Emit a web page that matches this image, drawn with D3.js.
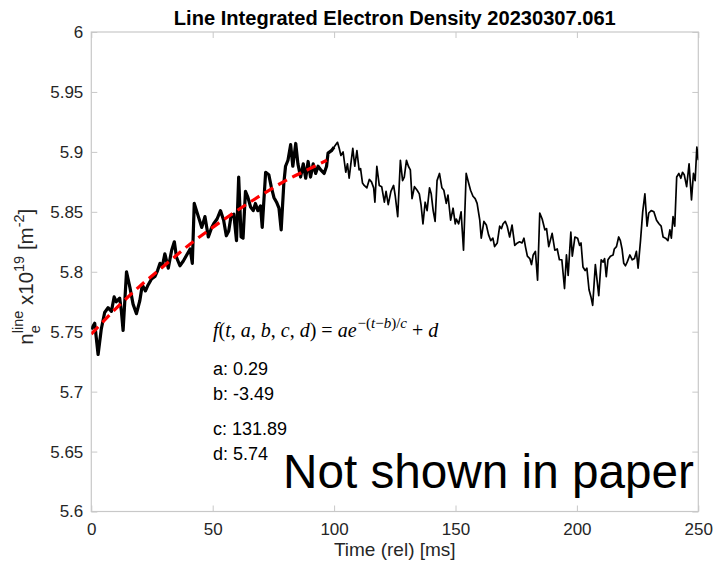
<!DOCTYPE html>
<html><head><meta charset="utf-8">
<script src="https://cdn.jsdelivr.net/npm/d3@7"></script>
<style>body{margin:0;background:#fff} svg{display:block}</style>
</head><body><svg id="c" width="715" height="564"></svg>
<script>
// ---- data ----
const timeMs = [0,1.4,2.8,4.1,5.5,6.9,8.3,9.4,10.3,11.7,12.4,13.1,14.5,15.9,17.2,18.6,20,21,22.3,23.4,24.8,26.2,27.3,28.3,29.2,30.3,31.7,33.1,34.2,35.1,36.5,37.9,39.3,40.7,41.6,42.4,44.1,45.5,46.8,48.2,49.6,
50.4,51.8,53.2,54.5,55.6,56.6,57.6,58.7,59.8,60.7,61.7,62.5,63.5,64.5,65.6,66.7,67.6,68.6,69.7,70.4,71.8,73.1,74.1,75.2,76.3,77.3,78.2,79.3,80,81,82.1,83,84.2,85.1,86.2,87.3,88.3,89.3,90.3,91.4,92.4,93.4,94.5,95.9,96.9,97.5,98.9,100,
101.4,102.1,102.8,103.7,104.8,105.5,106.2,106.9,107.7,108.5,109.4,110.3,110.9,111.7,112.4,113.5,114.5,115.4,116.3,116.8,117.6,118.6,119.6,120.7,121.4,122.3,123.4,124.5,125.2,126.2,127.3,128.2,128.9,129.8,130.6,131.4,132.1,133.1,134.2,135.1,135.8,136.6,137.5,138.3,139.3,140,140.8,141.6,142.4,143.4,144.4,145.2,146.2,146.9,148,149,149.9,
150.3,151.3,152.3,153.3,154.4,155.4,156.2,157.2,158.1,158.9,160,160.6,161.7,162.7,163.6,164.5,165.4,166.1,167.2,168.2,168.9,169.6,170.5,171.3,172.3,173.3,174.4,175.5,176.4,177.4,178.2,178.8,179.6,180.6,181.3,182,182.9,183.8,184.7,185.7,186.8,187.5,188.4,189.8,190.9,191.9,192.8,193.8,194.9,195.7,196.4,197.5,198.1,199.2,
200.3,201.1,201.7,202.5,203.4,204.1,205,205.8,206.5,207.6,208.3,209,210,210.8,211.4,212.1,212.8,213.8,214.9,215.4,216.3,217.2,217.9,218.6,219.3,220,220.7,221.8,222.8,223.7,224.5,225.2,226.2,227.1,228,228.9,229.6,230.6,231.7,232.8,233.8,234.7,235.5,236.5,237.5,238.3,238.9,239.6,240.3,241.1,242,242.8,243.5,244.2,245.2,246.2,247.2,248,248.7,249.4,250];
const densityE19 = [5.752,5.757,5.731,5.752,5.766,5.770,5.767,5.779,5.775,5.778,5.767,5.751,5.800,5.787,5.773,5.765,5.776,5.789,5.784,5.789,5.794,5.796,5.801,5.807,5.804,5.815,5.803,5.818,5.825,5.812,5.805,5.809,5.814,5.819,5.807,5.857,5.846,5.837,5.846,5.829,5.837,
5.840,5.844,5.851,5.843,5.830,5.834,5.847,5.848,5.826,5.879,5.829,5.828,5.867,5.862,5.854,5.851,5.857,5.851,5.855,5.837,5.883,5.881,5.871,5.862,5.858,5.853,5.835,5.874,5.888,5.893,5.906,5.888,5.907,5.890,5.879,5.890,5.878,5.892,5.879,5.890,5.882,5.888,5.885,5.882,5.888,5.899,5.901,5.904,
5.908,5.903,5.897,5.900,5.883,5.890,5.878,5.890,5.903,5.888,5.901,5.885,5.886,5.874,5.872,5.870,5.877,5.875,5.870,5.858,5.888,5.872,5.871,5.858,5.867,5.856,5.867,5.872,5.863,5.846,5.893,5.876,5.879,5.893,5.888,5.885,5.861,5.871,5.868,5.865,5.856,5.840,5.858,5.851,5.870,5.865,5.851,5.842,5.876,5.882,5.870,5.868,5.857,5.864,5.843,5.853,5.840,
5.844,5.840,5.850,5.818,5.882,5.874,5.868,5.863,5.861,5.857,5.843,5.828,5.842,5.839,5.831,5.826,5.828,5.821,5.824,5.838,5.836,5.840,5.842,5.838,5.829,5.839,5.822,5.824,5.825,5.824,5.828,5.821,5.813,5.811,5.806,5.814,5.817,5.793,5.849,5.844,5.835,5.836,5.821,5.832,5.818,5.819,5.810,5.810,5.786,5.814,5.797,5.833,5.813,5.829,
5.828,5.822,5.824,5.804,5.801,5.803,5.785,5.779,5.772,5.806,5.793,5.780,5.810,5.808,5.811,5.796,5.810,5.813,5.814,5.819,5.821,5.829,5.826,5.819,5.807,5.805,5.808,5.814,5.810,5.811,5.817,5.803,5.826,5.850,5.865,5.838,5.849,5.851,5.850,5.843,5.840,5.838,5.829,5.828,5.826,5.835,5.828,5.846,5.838,5.879,5.882,5.878,5.883,5.881,5.871,5.890,5.860,5.882,5.876,5.904,5.893];
const fitTime = [0,10,20,30,40,50,60,70,80,90,97];
const fitValue = [5.748,5.769,5.788,5.805,5.822,5.837,5.851,5.864,5.876,5.886,5.893];
const fitWindowEnd = 100;
const xTicks = [0,50,100,150,200,250];
const yTicks = [5.6,5.65,5.7,5.75,5.8,5.85,5.9,5.95,6];
const yTickLabels = ["5.6","5.65","5.7","5.75","5.8","5.85","5.9","5.95","6"];
const fitParamLabels = ["a: 0.29","b: -3.49","c: 131.89","d: 5.74"];
const titleText = "Line Integrated Electron Density 20230307.061";
const xLabelText = "Time (rel) [ms]";
const stampText = "Not shown in paper";

// ---- layout ----
const L = 91.3, R = 698.3, T = 32, B = 511.5;
const SANS = "'Liberation Sans', Arial, Helvetica, sans-serif";
const SERIF = "'Liberation Serif', 'Times New Roman', serif";
const AX = "#c8c8c8", TXT = "#262626";

const svg = d3.select("#c");
const x = d3.scaleLinear().domain([0,250]).range([L,R]);
const y = d3.scaleLinear().domain([5.6,6]).range([B,T]);

const pts = timeMs.map((t,i)=>({t, v:densityE19[i]}));
const fitPts = fitTime.map((t,i)=>({t, v:fitValue[i]}));

svg.append("defs").append("clipPath").attr("id","pc")
  .append("rect").attr("x",L).attr("y",T).attr("width",R-L).attr("height",B-T);

// axes
function styleAxis(g){
  g.select(".domain").remove();
  g.selectAll(".tick line").attr("stroke",AX).attr("stroke-width",1);
  g.selectAll(".tick text").attr("fill",TXT).attr("font-family",SANS).attr("font-size",17);
}
svg.append("g").attr("transform",`translate(0,${B})`)
  .call(d3.axisBottom(x).tickValues(xTicks).tickSize(-6).tickPadding(11.3).tickFormat(d3.format("d")))
  .call(styleAxis);
svg.append("g").attr("transform",`translate(${L},0)`)
  .call(d3.axisLeft(y).tickValues(yTicks).tickSize(-6).tickPadding(8).tickFormat((d,i)=>yTickLabels[i]))
  .call(styleAxis);
svg.append("g").attr("transform",`translate(0,${T})`)
  .call(d3.axisTop(x).tickValues(xTicks).tickSize(-6).tickFormat(()=>""))
  .call(styleAxis);
svg.append("g").attr("transform",`translate(${R},0)`)
  .call(d3.axisRight(y).tickValues(yTicks).tickSize(-6).tickFormat(()=>""))
  .call(styleAxis);
svg.append("rect").attr("x",L).attr("y",T).attr("width",R-L).attr("height",B-T)
  .attr("fill","none").attr("stroke",AX).attr("stroke-width",1.2);

// lines
const line = d3.line().x(d=>x(d.t)).y(d=>y(d.v));
const pg = svg.append("g").attr("clip-path","url(#pc)");
pg.append("path").datum(pts).attr("d",line).attr("fill","none")
  .attr("stroke","#000").attr("stroke-width",1.7).attr("stroke-linejoin","round");
pg.append("path").datum(pts.filter(d=>d.t<=fitWindowEnd)).attr("d",line).attr("fill","none")
  .attr("stroke","#000").attr("stroke-width",3.2).attr("stroke-linejoin","round");
pg.append("path").datum(fitPts).attr("d",d3.line().x(d=>x(d.t)).y(d=>y(d.v)).curve(d3.curveMonotoneX))
  .attr("fill","none").attr("stroke","#ff0000").attr("stroke-width",3.2).attr("stroke-dasharray","10,6");

// title
const title = svg.append("text").attr("x",(L+R)/2).attr("y",25).attr("text-anchor","middle")
  .attr("font-family",SANS).attr("font-weight","bold").attr("font-size",19).attr("fill","#000")
  .text(titleText);
{ const w = title.node().getComputedTextLength(); title.attr("font-size",19*442/w); }
// x label
svg.append("text").attr("x",(L+R)/2).attr("y",556).attr("text-anchor","middle")
  .attr("font-family",SANS).attr("font-size",19).attr("fill",TXT).text(xLabelText);

// y label
const yl = svg.append("text").attr("transform",`translate(33,${(T+B)/2+5}) rotate(-90)`)
  .attr("text-anchor","middle").attr("font-family",SANS).attr("font-size",20.5).attr("fill",TXT);
yl.append("tspan").text("n");
yl.append("tspan").attr("font-size",14.5).attr("dy",6.5).text("e");
yl.append("tspan").attr("font-size",14.5).attr("dx",-8).attr("dy",-16.5).text("line");
yl.append("tspan").attr("dy",10).text(" x10");
yl.append("tspan").attr("font-size",14.5).attr("dy",-9).text("19");
yl.append("tspan").attr("dy",9).text(" [m");
yl.append("tspan").attr("font-size",14.5).attr("dy",-9).text("-2");
yl.append("tspan").attr("dy",9).text("]");

// equation (LaTeX-like)
const eq = svg.append("text").attr("x",213).attr("y",337).attr("font-family",SERIF).attr("font-size",20).attr("fill","#000");
const parts = [["f",1],["(",0],["t",1],[", ",0],["a",1],[", ",0],["b",1],[", ",0],["c",1],[", ",0],["d",1],[") = ",0],["ae",1]];
parts.forEach(p=>eq.append("tspan").attr("font-style",p[1]?"italic":"normal").text(p[0]));
const sup = [["\u2212(",0],["t",1],["\u2212",0],["b",1],[")/",0],["c",1]];
sup.forEach((p,i)=>{const s=eq.append("tspan").attr("font-size",15).attr("font-style",p[1]?"italic":"normal").text(p[0]); if(i===0) s.attr("dy",-9).attr("dx",1);});
eq.append("tspan").attr("dy",9).attr("dx",5).text("+ ");
eq.append("tspan").attr("font-style","italic").text("d");

// parameters
const paramY = [375,400,435,460];
svg.append("g").selectAll("text").data(fitParamLabels).join("text")
  .attr("x",213).attr("y",(d,i)=>paramY[i]).attr("font-family",SANS).attr("font-size",18).attr("fill","#000")
  .text(d=>d);

// stamp
const st = svg.append("text").attr("x",283).attr("y",488).attr("font-family",SANS).attr("font-size",44).attr("fill","#000").text(stampText);
const w = st.node().getComputedTextLength();
st.attr("font-size",44*411/w);
</script></body></html>
